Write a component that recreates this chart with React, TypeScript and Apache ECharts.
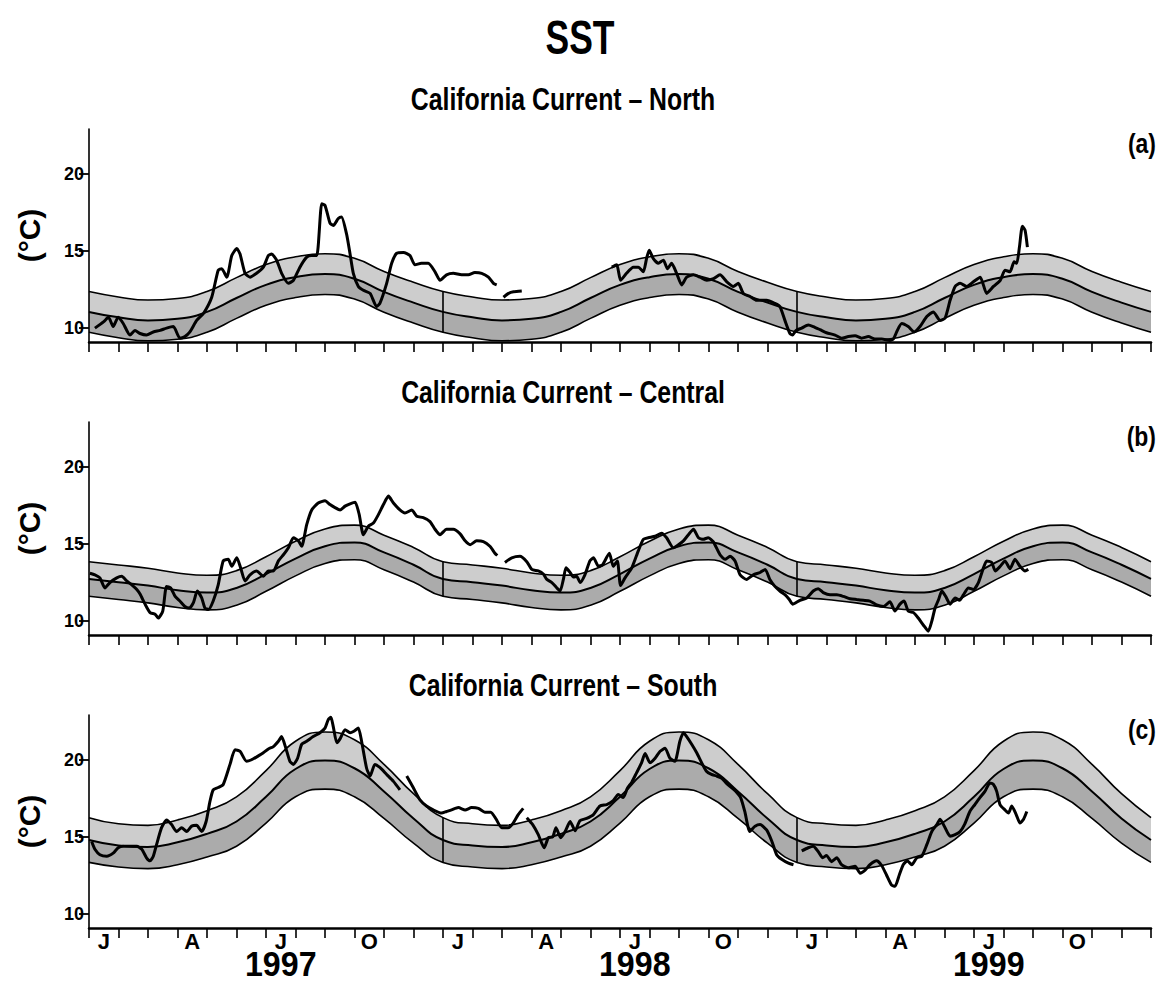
import React, { useEffect, useRef } from 'react';
import * as echarts from 'echarts';

const FONT = "'Liberation Sans', Arial, Helvetica, sans-serif";

const monthLetters = ['J', 'F', 'M', 'A', 'M', 'J', 'J', 'A', 'S', 'O', 'N', 'D'];
const years = ['1997', '1998', '1999'];
const yTickValues = [10, 15, 20];
const mainTitle = 'SST';
const panelTitles = ['California Current – North', 'California Current – Central', 'California Current – South'];
const panelLetters = ['(a)', '(b)', '(c)'];

// Climatology at month boundaries (1 Jan ... next 1 Jan), °C, and its standard deviation
const northMean = [11.05, 10.7, 10.5, 10.6, 11.05, 11.95, 12.8, 13.3, 13.5, 13.2, 12.35, 11.65, 11.05];
const northSd = [1.32, 1.32, 1.32, 1.32, 1.32, 1.32, 1.32, 1.32, 1.32, 1.32, 1.32, 1.32, 1.32];
const centralMean = [12.73, 12.52, 12.3, 12.0, 11.85, 12.15, 13.05, 14.05, 14.85, 15.1, 14.45, 13.65, 12.73];
const centralSd = [1.12, 1.12, 1.12, 1.12, 1.12, 1.12, 1.12, 1.12, 1.12, 1.12, 1.12, 1.12, 1.12];
const southMean = [14.8, 14.45, 14.35, 14.65, 15.2, 16.0, 17.6, 19.4, 19.95, 19.45, 17.95, 16.2, 14.8];
const southSd = [1.45, 1.4, 1.4, 1.45, 1.5, 1.6, 1.7, 1.8, 1.85, 1.85, 1.75, 1.6, 1.45];

// Observed SST: [months since 1 Jan 1997, °C], one array per unbroken segment
const northObs = [
  [[0.2, 10.0], [0.49, 10.4], [0.66, 10.7], [0.82, 10.1], [0.99, 10.7], [1.16, 10.3], [1.39, 9.55], [1.56, 9.85], [1.73, 9.65], [1.95, 9.55], [2.18, 9.75], [2.41, 9.85], [2.63, 10.0], [2.86, 10.1], [3.08, 9.35], [3.25, 9.45], [3.42, 9.75], [3.65, 10.5], [3.88, 10.95], [4.16, 12.0], [4.38, 13.75], [4.5, 13.85], [4.67, 13.3], [4.84, 14.7], [5.01, 15.15], [5.12, 14.8], [5.29, 13.55], [5.46, 13.3], [5.68, 13.55], [5.91, 13.95], [6.08, 14.7], [6.19, 14.8], [6.36, 14.4], [6.53, 13.55], [6.76, 12.9], [6.93, 13.1], [7.15, 13.95], [7.38, 14.6], [7.55, 14.7], [7.72, 14.7], [7.89, 18.05], [8.0, 17.95], [8.17, 16.8], [8.28, 16.65], [8.45, 17.1], [8.56, 17.2], [8.73, 16.1], [8.85, 14.8], [8.96, 13.55], [9.13, 12.7], [9.3, 12.45], [9.53, 12.25], [9.75, 11.4], [9.86, 11.6], [10.09, 12.9], [10.26, 14.2], [10.43, 14.85], [10.66, 14.9], [10.88, 14.7], [11.05, 14.1], [11.27, 14.2], [11.5, 14.2], [11.73, 13.65], [11.9, 13.1], [12.12, 13.45], [12.35, 13.55], [12.63, 13.45], [12.86, 13.45], [13.08, 13.6], [13.31, 13.55], [13.54, 13.3], [13.71, 12.9], [13.82, 12.8]],
  [[14.05, 12.0], [14.22, 12.25], [14.39, 12.35], [14.67, 12.4]],
  [[17.72, 13.95], [17.89, 14.1], [18.02, 13.1], [18.22, 13.55], [18.45, 13.95], [18.62, 13.95], [18.79, 13.65], [18.9, 14.5], [18.99, 15.05], [19.13, 14.5], [19.3, 14.2], [19.47, 14.4], [19.61, 13.85], [19.75, 14.2], [19.92, 13.55], [20.09, 12.8], [20.26, 13.3], [20.49, 13.45], [20.71, 13.3], [20.94, 13.1], [21.17, 13.2], [21.39, 13.45], [21.62, 13.0], [21.84, 12.7], [22.01, 12.9], [22.18, 12.25], [22.41, 12.05], [22.63, 11.8], [22.97, 11.8], [23.25, 11.6], [23.42, 11.4], [23.59, 10.5], [23.76, 9.65], [23.85, 9.55], [23.97, 9.85], [24.16, 10.0], [24.38, 10.2], [24.55, 10.1], [24.78, 9.9], [25.0, 9.7], [25.29, 9.55], [25.51, 9.35], [25.74, 9.45], [25.97, 9.5], [26.19, 9.35], [26.42, 9.45], [26.64, 9.3], [26.87, 9.3], [27.15, 9.2], [27.27, 9.3], [27.4, 9.85], [27.55, 10.3], [27.77, 10.1], [27.97, 9.75], [28.17, 10.1], [28.4, 10.75], [28.62, 11.05], [28.85, 10.5], [29.02, 10.65], [29.19, 11.8], [29.36, 12.7], [29.53, 12.9], [29.75, 12.7], [29.98, 13.0], [30.21, 13.3], [30.43, 12.25], [30.66, 12.7], [30.89, 13.1], [31.05, 13.75], [31.22, 13.65], [31.36, 14.3], [31.45, 14.2], [31.54, 15.25], [31.64, 16.6], [31.73, 16.35], [31.81, 15.25]],
];

const centralObs = [
  [[0.03, 13.1], [0.2, 13.0], [0.37, 12.8], [0.54, 12.15], [0.71, 12.5], [0.94, 12.8], [1.11, 12.9], [1.28, 12.6], [1.45, 12.35], [1.62, 12.05], [1.73, 11.75], [1.9, 11.1], [2.07, 10.55], [2.24, 10.45], [2.35, 10.2], [2.5, 10.65], [2.63, 12.25], [2.77, 12.15], [2.92, 11.6], [3.08, 11.3], [3.25, 10.95], [3.4, 10.85], [3.54, 11.2], [3.67, 11.95], [3.82, 11.5], [3.93, 10.85], [4.05, 10.75], [4.21, 11.3], [4.38, 12.35], [4.55, 13.9], [4.72, 14.0], [4.84, 13.55], [5.01, 14.1], [5.14, 13.45], [5.29, 12.6], [5.46, 13.0], [5.68, 13.25], [5.91, 12.9], [6.08, 13.25], [6.25, 13.25], [6.42, 13.9], [6.59, 14.3], [6.76, 14.75], [6.93, 15.4], [7.1, 15.2], [7.21, 14.85], [7.38, 16.25], [7.55, 17.2], [7.77, 17.65], [8.0, 17.8], [8.17, 17.55], [8.34, 17.35], [8.51, 17.2], [8.68, 17.45], [8.85, 17.6], [9.02, 17.7], [9.16, 16.9], [9.3, 15.6], [9.47, 16.15], [9.64, 16.35], [9.81, 16.9], [9.98, 17.55], [10.15, 18.1], [10.32, 17.65], [10.54, 17.2], [10.71, 17.0], [10.94, 17.2], [11.11, 16.8], [11.33, 16.7], [11.56, 16.45], [11.73, 15.95], [11.9, 15.6], [12.12, 15.95], [12.35, 15.95], [12.58, 15.65], [12.75, 15.2], [12.92, 14.95], [13.14, 15.2], [13.37, 15.15], [13.59, 14.85], [13.76, 14.4], [13.84, 14.25]],
  [[14.1, 13.8], [14.33, 14.1], [14.61, 14.2], [14.84, 13.85], [15.01, 13.35], [15.23, 13.25], [15.4, 13.05], [15.52, 12.7], [15.69, 12.5], [15.86, 12.15], [15.97, 11.95], [16.08, 12.7], [16.17, 13.45], [16.31, 13.15], [16.42, 12.85], [16.53, 12.9], [16.65, 12.5], [16.81, 13.0], [16.98, 13.9], [17.1, 14.1], [17.27, 13.55], [17.41, 13.65], [17.64, 14.4], [17.77, 13.55], [17.91, 13.9], [18.02, 12.3], [18.17, 12.8], [18.4, 13.45], [18.62, 14.55], [18.79, 15.3], [18.96, 15.4], [19.19, 15.5], [19.41, 15.7], [19.58, 15.4], [19.81, 14.75], [19.98, 14.95], [20.15, 15.2], [20.32, 15.6], [20.49, 15.95], [20.66, 15.4], [20.82, 15.3], [20.99, 15.4], [21.16, 15.15], [21.39, 14.3], [21.56, 14.0], [21.73, 14.2], [21.9, 13.9], [22.07, 13.0], [22.29, 12.7], [22.52, 13.0], [22.75, 13.15], [22.92, 13.35], [23.08, 12.7], [23.25, 12.25], [23.42, 11.95], [23.6, 11.7], [23.74, 11.4], [23.85, 11.1], [24.1, 11.35], [24.33, 11.5], [24.55, 11.95], [24.72, 12.1], [24.89, 11.85], [25.12, 11.7], [25.35, 11.7], [25.57, 11.6], [25.8, 11.45], [26.02, 11.4], [26.25, 11.35], [26.47, 11.3], [26.7, 11.05], [26.93, 10.95], [27.15, 11.25], [27.32, 10.65], [27.49, 11.1], [27.63, 11.3], [27.77, 10.65], [27.95, 10.55], [28.11, 10.2], [28.28, 9.75], [28.45, 9.35], [28.57, 10.0], [28.68, 10.85], [28.8, 11.4], [28.91, 11.95], [29.04, 11.6], [29.19, 11.1], [29.36, 11.5], [29.51, 11.35], [29.64, 11.7], [29.81, 12.15], [29.98, 12.05], [30.15, 12.5], [30.32, 13.45], [30.43, 13.9], [30.6, 13.8], [30.72, 13.25], [30.89, 13.55], [31.05, 13.9], [31.22, 13.4], [31.39, 14.0], [31.56, 13.55], [31.73, 13.25], [31.84, 13.35]],
];

const southObs = [
  [[0.09, 14.7], [0.2, 14.2], [0.37, 13.85], [0.6, 13.75], [0.82, 13.95], [0.99, 14.3], [1.16, 14.4], [1.39, 14.4], [1.62, 14.4], [1.79, 14.2], [1.95, 13.65], [2.07, 13.45], [2.18, 13.75], [2.29, 14.5], [2.46, 15.6], [2.63, 16.1], [2.8, 15.8], [2.97, 15.35], [3.14, 15.6], [3.31, 15.35], [3.48, 15.7], [3.65, 15.75], [3.82, 15.35], [3.97, 16.0], [4.1, 17.3], [4.21, 18.05], [4.38, 18.2], [4.55, 18.4], [4.78, 19.7], [4.95, 20.65], [5.12, 20.55], [5.34, 19.9], [5.51, 20.0], [5.74, 20.25], [5.91, 20.45], [6.08, 20.7], [6.25, 20.85], [6.42, 21.2], [6.53, 21.5], [6.68, 20.7], [6.81, 19.9], [6.93, 19.7], [7.07, 20.1], [7.21, 21.0], [7.38, 21.2], [7.6, 21.5], [7.83, 21.75], [8.0, 22.05], [8.11, 22.6], [8.2, 22.75], [8.28, 22.15], [8.4, 21.1], [8.51, 21.35], [8.68, 21.95], [8.85, 21.75], [8.98, 21.85], [9.13, 22.05], [9.24, 21.2], [9.41, 19.45], [9.53, 18.95], [9.69, 19.7], [9.86, 19.5], [10.09, 19.05], [10.32, 18.6], [10.54, 18.05]],
  [[10.77, 18.95], [10.99, 18.2], [11.22, 17.4], [11.44, 17.0], [11.67, 16.75], [11.95, 16.55], [12.12, 16.65], [12.29, 16.75], [12.52, 16.9], [12.75, 16.75], [12.97, 16.9], [13.2, 16.85], [13.42, 16.6], [13.62, 16.6], [13.8, 16.15], [13.99, 15.6], [14.21, 15.6], [14.38, 15.9], [14.55, 16.45], [14.72, 16.85]],
  [[14.84, 16.25], [15.04, 15.8], [15.23, 15.15], [15.43, 14.3], [15.57, 14.95], [15.72, 15.0], [15.83, 15.6], [15.99, 14.95], [16.14, 15.35], [16.31, 16.0], [16.48, 15.4], [16.64, 16.05], [16.87, 16.2], [17.1, 16.45], [17.32, 17.0], [17.55, 17.1], [17.77, 17.35], [17.94, 17.75], [18.11, 17.55], [18.25, 18.15], [18.4, 18.55], [18.56, 19.15], [18.73, 19.8], [18.85, 20.4], [19.02, 19.8], [19.19, 20.1], [19.36, 20.55], [19.53, 20.75], [19.69, 20.1], [19.86, 19.9], [20.03, 21.2], [20.15, 21.75], [20.26, 21.5], [20.43, 21.0], [20.6, 20.45], [20.77, 19.8], [20.93, 19.25], [21.1, 19.05], [21.27, 18.95], [21.45, 18.8], [21.62, 18.45], [21.78, 18.2], [21.93, 17.95], [22.09, 17.55], [22.23, 16.65], [22.4, 15.35], [22.58, 15.7], [22.75, 15.8], [22.97, 15.45], [23.14, 14.75], [23.31, 13.85], [23.48, 13.55], [23.71, 13.3], [23.88, 13.2]],
  [[24.16, 14.1], [24.38, 14.3], [24.55, 14.4], [24.72, 14.05], [24.87, 13.65], [25.0, 13.8], [25.17, 13.4], [25.35, 13.65], [25.51, 13.2], [25.74, 13.0], [25.97, 13.1], [26.14, 12.65], [26.31, 12.85], [26.47, 13.2], [26.7, 13.45], [26.87, 13.15], [27.03, 12.55], [27.2, 11.9], [27.32, 11.8], [27.47, 12.55], [27.6, 13.2], [27.74, 13.45], [27.89, 13.2], [28.06, 13.65], [28.23, 13.75], [28.4, 14.5], [28.57, 15.35], [28.74, 15.8], [28.85, 16.15], [29.02, 15.6], [29.19, 15.05], [29.36, 15.15], [29.53, 15.35], [29.69, 15.85], [29.86, 16.65], [30.03, 17.1], [30.2, 17.55], [30.37, 17.95], [30.54, 18.5], [30.66, 18.4], [30.77, 17.95], [30.88, 17.1], [31.05, 16.75], [31.17, 16.55], [31.28, 17.0], [31.43, 16.45], [31.56, 15.9], [31.68, 16.15], [31.79, 16.65]],
];

const PANELS = [
  { mean: northMean, sd: northSd, obs: northObs },
  { mean: centralMean, sd: centralSd, obs: centralObs },
  { mean: southMean, sd: southSd, obs: southObs },
];

// Layout (pixels)
const GRID_LEFT = 89;
const GRID_W = 1062;
const GRID_H = 213;
const GRID_TOPS = [129, 422, 715];
const TITLE_Y = [100, 393, 686];
const LETTER_Y = [143, 436, 729];
const LIGHT = '#cdcdcd';
const DARK = '#ababab';
const INK = '#000';

function bandLine(mean: number[], sd: number[], sign: number) {
  const pts: number[][] = [];
  for (let m = 0; m <= 36; m++) {
    const i = m % 12;
    pts.push([m, mean[i] + sign * sd[i]]);
  }
  return pts;
}

function narrowText(text: string, x: number, y: number, fontSize: number, align: string, sx: number) {
  return {
    type: 'text',
    x,
    y,
    scaleX: sx,
    style: { text, fontFamily: FONT, fontWeight: 'bold', fontSize, fill: INK, align, verticalAlign: 'middle' },
  };
}

function buildOption() {
  const grid: any[] = [];
  const xAxis: any[] = [];
  const yAxis: any[] = [];
  const series: any[] = [];
  const monthCats = [...monthLetters, ...monthLetters, ...monthLetters];

  PANELS.forEach((p, k) => {
    grid.push({ left: GRID_LEFT, top: GRID_TOPS[k], width: GRID_W, height: GRID_H });
    xAxis.push({
      gridIndex: k,
      type: 'category',
      data: monthCats,
      boundaryGap: true,
      position: 'bottom',
      z: 10,
      axisLine: { show: true, onZero: false, lineStyle: { color: INK, width: 2.5 } },
      axisTick: { show: true, interval: 0, length: 10, lineStyle: { color: INK, width: 1.6 } },
      axisLabel: {
        show: k === 2,
        interval: 0,
        margin: 2,
        color: INK,
        fontFamily: FONT,
        fontWeight: 'bold',
        fontSize: 22,
        formatter: (v: string, i: number) => (i % 3 === 0 ? v : ''),
      },
      splitLine: { show: false },
    });
    xAxis.push({ gridIndex: k, type: 'value', min: 0, max: 36, show: false });
    yAxis.push({
      gridIndex: k,
      type: 'value',
      min: 9.1,
      max: 22.9,
      z: 10,
      axisLine: { show: true, onZero: false, lineStyle: { color: INK, width: 1.6 } },
      axisTick: { show: true, length: 10, customValues: yTickValues, lineStyle: { color: INK, width: 1.8 } },
      axisLabel: { customValues: yTickValues, color: INK, fontFamily: FONT, fontWeight: 'bold', fontSize: 18, margin: 5 },
      splitLine: { show: false },
      name: '(°C)',
      nameLocation: 'middle',
      nameGap: 45,
      nameTextStyle: { color: INK, fontFamily: FONT, fontWeight: 'bold', fontSize: 30 },
    });

    const upper = bandLine(p.mean, p.sd, 1);
    const mid = bandLine(p.mean, p.sd, 0);
    const lower = bandLine(p.mean, p.sd, -1);
    const common = {
      type: 'line',
      xAxisIndex: 2 * k + 1,
      yAxisIndex: k,
      symbol: 'none',
      smooth: 0.5,
      silent: true,
    };
    series.push({ ...common, data: upper, z: 2, lineStyle: { color: INK, width: 1.6 }, areaStyle: { color: LIGHT, opacity: 1, origin: 'start' } });
    series.push({ ...common, data: mid, z: 3, lineStyle: { color: INK, width: 2 }, areaStyle: { color: DARK, opacity: 1, origin: 'start' } });
    const lo0 = p.mean[0] - p.sd[0];
    const up0 = p.mean[0] + p.sd[0];
    series.push({
      ...common,
      data: lower,
      z: 4,
      lineStyle: { color: INK, width: 1.6 },
      areaStyle: { color: '#ffffff', opacity: 1, origin: 'start' },
      markLine: {
        silent: true,
        symbol: ['none', 'none'],
        label: { show: false },
        lineStyle: { color: INK, width: 1.6, type: 'solid' },
        data: [12, 24].map((m) => [{ coord: [m, lo0] }, { coord: [m, up0] }]),
      },
    });
    p.obs.forEach((seg) => {
      series.push({
        type: 'line',
        xAxisIndex: 2 * k + 1,
        yAxisIndex: k,
        data: seg,
        symbol: 'none',
        smooth: 0.2,
        z: 6,
        silent: true,
        lineStyle: { color: INK, width: 3 },
      });
    });
  });

  const monthW = GRID_W / 36;
  const graphic: any[] = [narrowText(mainTitle, 580, 38, 48, 'center', 0.74)];
  panelTitles.forEach((t, k) => {
    graphic.push(narrowText(t, 563, TITLE_Y[k], 31, 'center', 0.8));
    graphic.push(narrowText(panelLetters[k], 1156, LETTER_Y[k], 27, 'right', 0.85));
  });
  years.forEach((y, i) => {
    graphic.push(narrowText(y, GRID_LEFT + (12 * i + 6.5) * monthW, 964.5, 35, 'center', 0.92));
  });

  return {
    animation: false,
    backgroundColor: '#ffffff',
    grid,
    xAxis,
    yAxis,
    series,
    graphic,
  };
}

export default function App() {
  const ref = useRef<HTMLDivElement>(null);
  useEffect(() => {
    if (!ref.current) return;
    const chart = echarts.init(ref.current, null, { renderer: 'svg' });
    chart.setOption(buildOption() as any);
    return () => chart.dispose();
  }, []);
  return <div ref={ref} style={{ position: 'absolute', left: 0, top: 0, width: 1160, height: 984 }} />;
}
